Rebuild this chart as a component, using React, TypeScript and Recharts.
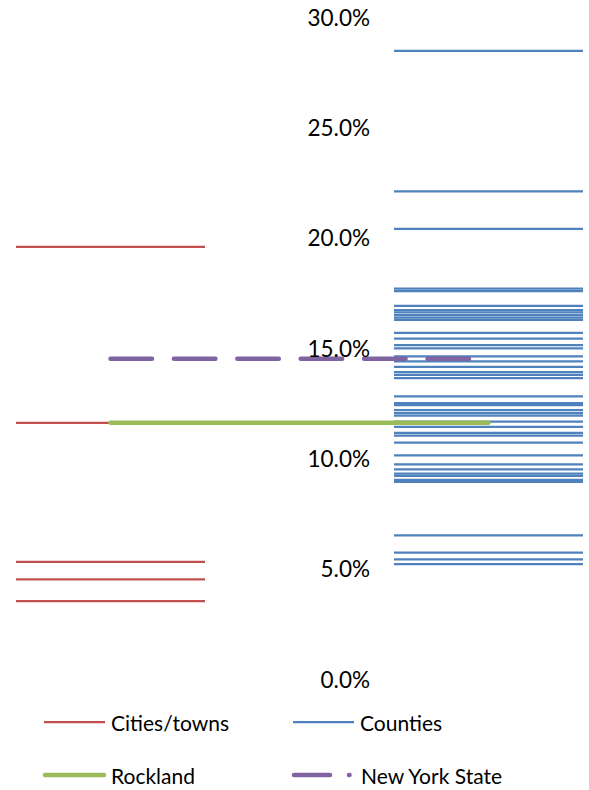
import React from 'react';
import { LineChart, Line, XAxis, YAxis } from 'recharts';

// Values in percent
const citiesTowns: number[] = [19.58, 11.61, 5.31, 4.51, 3.53];
const counties: number[] = [
  28.47, 22.10, 20.40, 17.69, 17.58, 16.91, 16.72, 16.61, 16.49, 16.38, 16.27,
  15.69, 15.42, 15.13, 14.98, 14.62, 14.39, 14.15, 13.91, 13.78, 13.64,
  12.81, 12.50, 12.41, 12.19, 12.05, 11.94, 11.66, 11.43, 11.15, 11.03, 10.71,
  10.13, 9.73, 9.50, 9.31, 9.20, 9.02, 8.93, 6.51, 5.73, 5.42, 5.21,
];
const rockland = 11.61;
const newYorkState = 14.51;
const yTicks: number[] = [0, 5, 10, 15, 20, 25, 30];

// x-span of each group on the hidden numeric x axis
const citySpan: [number, number] = [0, 1];
const countySpan: [number, number] = [2, 3];
const refSpan: [number, number] = [0.5, 2.5];

const seg = (span: [number, number], v: number) => [
  { x: span[0], y: v },
  { x: span[1], y: v },
];

const FONT = 'Lato, "Open Sans", sans-serif';
const RED = '#C0504D';
const BLUE = '#4F81BD';
const GREEN = '#9BBB59';
const PURPLE = '#8064A2';

const renderTick = (props: any) => {
  const { y, payload } = props;
  return (
    <text
      key={'t' + payload.value}
      x={370}
      y={y}
      textAnchor="end"
      dominantBaseline="central"
      fontFamily={FONT}
      fontSize={22.5}
      fill="#000"
    >
      {Number(payload.value).toFixed(1) + '%'}
    </text>
  );
};

export default function App() {
  return (
    <div style={{ position: 'absolute', left: 0, top: 0, width: 589, height: 790, background: '#fff' }}>
      <LineChart width={589} height={700} margin={{ top: 17, right: 6, bottom: 21, left: 6 }}>
        <XAxis type="number" dataKey="x" domain={[0, 3]} hide />
        <YAxis
          type="number"
          domain={[0, 30]}
          ticks={yTicks}
          width={10}
          axisLine={false}
          tickLine={false}
          tick={renderTick}
          interval={0}
        />
        {citiesTowns.map((v, i) => (
          <Line
            key={'c' + i}
            data={seg(citySpan, v)}
            dataKey="y"
            stroke={RED}
            strokeWidth={2.25}
            dot={false}
            isAnimationActive={false}
            legendType="none"
          />
        ))}
        {counties.map((v, i) => (
          <Line
            key={'k' + i}
            data={seg(countySpan, v)}
            dataKey="y"
            stroke={BLUE}
            strokeWidth={2.25}
            dot={false}
            isAnimationActive={false}
            legendType="none"
          />
        ))}
        <Line
          data={seg(refSpan, rockland)}
          dataKey="y"
          stroke={GREEN}
          strokeWidth={4.5}
          strokeLinecap="round"
          dot={false}
          isAnimationActive={false}
          legendType="none"
        />
        <Line
          data={seg(refSpan, newYorkState)}
          dataKey="y"
          stroke={PURPLE}
          strokeWidth={4.5}
          strokeLinecap="round"
          strokeDasharray="41.5 21.9"
          dot={false}
          isAnimationActive={false}
          legendType="none"
        />
      </LineChart>
      <svg width={589} height={90} style={{ position: 'absolute', left: 0, top: 700 }}>
        <g fontFamily={FONT} fontSize={21} fill="#000">
          <line x1={44} x2={105} y1={22} y2={22} stroke={RED} strokeWidth={2.25} />
          <text x={111} y={22} dominantBaseline="central">Cities/towns</text>
          <line x1={293} x2={354} y1={22} y2={22} stroke={BLUE} strokeWidth={2.25} />
          <text x={360} y={22} dominantBaseline="central">Counties</text>
          <line x1={45} x2={104} y1={75} y2={75} stroke={GREEN} strokeWidth={4.5} strokeLinecap="round" />
          <text x={111} y={75} dominantBaseline="central">Rockland</text>
          <line x1={294} x2={330} y1={75} y2={75} stroke={PURPLE} strokeWidth={4.5} strokeLinecap="round" />
          <line x1={349} x2={349.5} y1={75} y2={75} stroke={PURPLE} strokeWidth={4.5} strokeLinecap="round" />
          <text x={361} y={75} dominantBaseline="central">New York State</text>
        </g>
      </svg>
    </div>
  );
}
